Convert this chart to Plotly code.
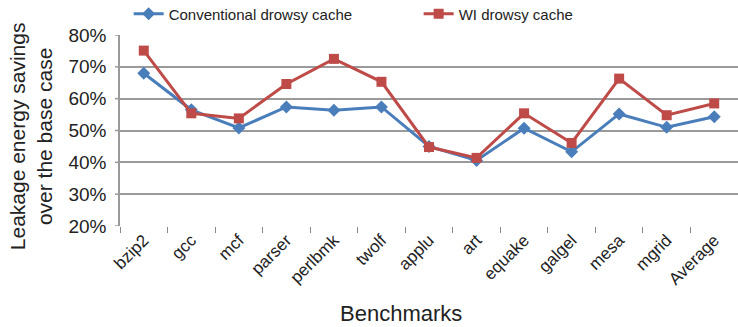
import plotly.graph_objects as go

benchmarks = ["bzip2", "gcc", "mcf", "parser", "perlbmk", "twolf", "applu",
              "art", "equake", "galgel", "mesa", "mgrid", "Average"]
conventional = [68.0, 56.5, 50.8, 57.4, 56.4, 57.4, 45.0, 40.6, 50.7, 43.3, 55.2, 51.0, 54.3]
wi = [75.1, 55.4, 53.8, 64.6, 72.5, 65.3, 44.8, 41.4, 55.4, 46.1, 66.3, 54.8, 58.5]
yticks = [20, 30, 40, 50, 60, 70, 80]
ytick_text = [f"{v}%" for v in yticks]

FONT = "Liberation Sans, Arial, sans-serif"
L, T, B = 120, 35, 101
PW, PH = 738 - L, 327 - T - B

fig = go.Figure()
fig.add_trace(go.Scatter(
    x=benchmarks, y=conventional, name="Conventional drowsy cache",
    mode="lines+markers",
    line=dict(color="#4A7EBB", width=3),
    marker=dict(symbol="diamond", size=10, color="#4A7EBB"),
))
fig.add_trace(go.Scatter(
    x=benchmarks, y=wi, name="WI drowsy cache",
    mode="lines+markers",
    line=dict(color="#BE4B48", width=3),
    marker=dict(symbol="square", size=10, color="#BE4B48"),
))

fig.update_layout(
    width=738, height=327,
    margin=dict(l=L, r=0, t=T, b=B, autoexpand=False),
    paper_bgcolor="white", plot_bgcolor="white",
    font=dict(family=FONT, color="#222"),
    showlegend=True,
    legend=dict(
        orientation="h", x=0.014, xanchor="left", y=1 + 21 / PH, yanchor="middle",
        font=dict(size=15, family=FONT, color="#222"),
        entrywidth=245, entrywidthmode="pixels",
        itemwidth=30, bgcolor="rgba(0,0,0,0)",
    ),
    xaxis=dict(
        type="category", tickangle=-45, automargin=False,
        tickfont=dict(size=17, family=FONT, color="#222"),
        showgrid=False, showline=False,
        ticks="outside", ticklen=6, tickcolor="#888",
        tickson="boundaries",
        range=[-0.5, 12.5],
    ),
    yaxis=dict(
        range=[20, 80], tickvals=yticks, ticktext=ytick_text, automargin=False,
        tickfont=dict(size=19, family=FONT, color="#222"),
        showgrid=True, gridcolor="#9A9A9A", gridwidth=1.5,
        showline=True, linecolor="#9A9A9A", linewidth=1.5,
        ticks="", ticklabelstandoff=8, zeroline=False,
    ),
)

# small outside tick marks on the y axis
for v in yticks:
    fig.add_shape(type="line", xref="paper", yref="y",
                  x0=-5 / PW, x1=0, y0=v, y1=v,
                  line=dict(color="#9A9A9A", width=1.5))

fig.add_annotation(
    text="Leakage energy savings<br>over the base case",
    xref="paper", yref="paper", x=(31 - L) / PW, y=0.47,
    xanchor="center", yanchor="middle", textangle=-90, showarrow=False,
    font=dict(size=21, family=FONT, color="#222"),
)
fig.add_annotation(
    text="Benchmarks",
    xref="paper", yref="paper", x=(401 - L) / PW, y=-(313 - T - PH) / PH,
    xanchor="center", yanchor="middle", showarrow=False,
    font=dict(size=22, family=FONT, color="#222"),
)

fig.write_html("out.html", config={"displayModeBar": False})
with open("out.html", encoding="utf-8") as f:
    html = f.read()
html = html.replace("<body>", '<body style="margin:0;padding:0">', 1)
with open("out.html", "w", encoding="utf-8") as f:
    f.write(html)
